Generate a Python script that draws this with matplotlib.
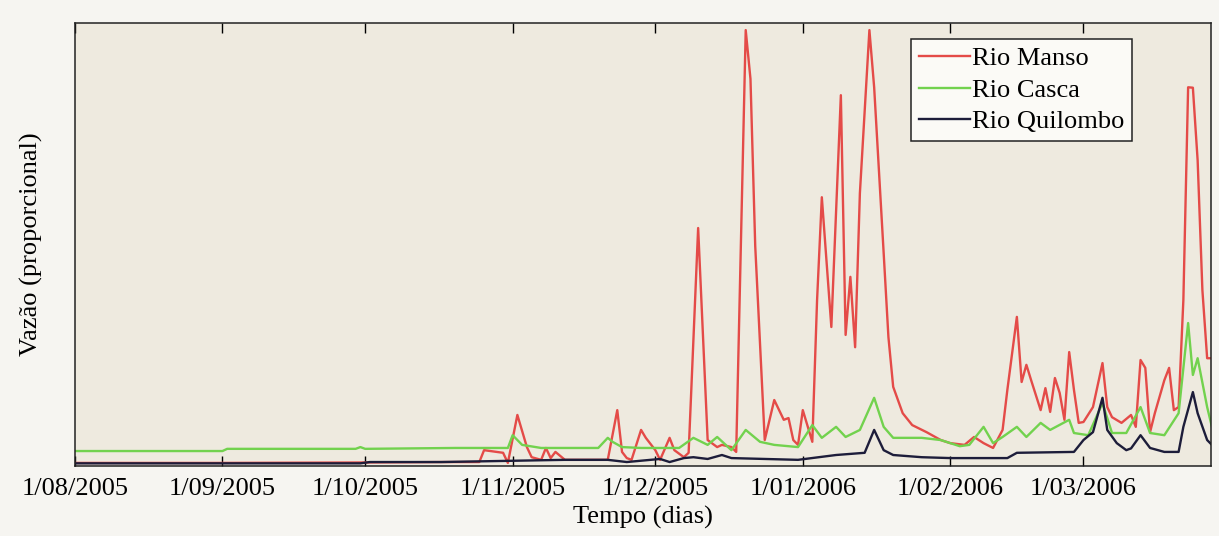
"""Vazão proporcional dos rios Manso, Casca e Quilombo (ago/2005 - mar/2006)."""
import matplotlib
matplotlib.use("Agg")
import matplotlib.pyplot as plt
import matplotlib.dates as mdates
import pandas as pd

START = pd.Timestamp("2005-08-01")
X_END_DAYS = 238.8
Y_TOP = 100.7

# day offset from START -> proportional flow
MANSO_DAY = [0, 30, 60, 77, 85, 86, 90, 91, 93, 95, 96, 98, 99, 100, 101, 103,
             112, 114, 115, 116, 117, 119, 120, 122, 123, 125, 126, 128, 129,
             131, 133, 135, 136, 138, 139, 141, 142, 143, 145, 147, 149, 150,
             151, 152, 153, 155, 156, 157, 159, 161, 162, 163, 164, 165, 167,
             168, 170, 171, 172, 174, 176, 179, 182, 184, 187, 189, 191, 193,
             195, 196, 198, 199, 200, 201, 203, 204, 205, 206, 207, 208, 209,
             210, 211, 212, 214, 216, 217, 218, 220, 222, 223, 224, 225, 226,
             227, 229, 230, 231, 232, 233, 234, 235, 236, 237, 238, 239]
MANSO_VAL = [0.7, 0.7, 0.8, 0.9, 0.9, 3.6, 3.0, 0.7, 11.6, 4.3, 2.0, 1.4, 4.1,
             1.8, 3.2, 1.4, 1.4, 12.7, 3.2, 1.8, 1.4, 8.2, 6.4, 3.6, 1.4, 6.4,
             3.6, 2.0, 3.0, 54.1, 5.9, 4.3, 4.8, 4.3, 3.2, 99.1, 88.0, 50.0,
             5.9, 15.0, 10.5, 10.9, 5.9, 4.8, 12.7, 5.5, 37.7, 61.1, 31.6,
             84.3, 29.8, 43.0, 27.0, 62.0, 99.1, 86.1, 48.4, 29.3, 18.0, 12.0,
             9.3, 7.7, 5.9, 5.2, 4.8, 6.6, 5.2, 4.1, 8.2, 17.3, 33.9, 19.1,
             23.0, 19.5, 12.7, 17.7, 12.3, 20.0, 16.6, 10.5, 25.9, 17.3, 9.8,
             10.0, 13.4, 23.4, 13.4, 11.1, 9.8, 11.6, 8.9, 24.1, 22.3, 7.7,
             12.0, 19.5, 22.3, 12.7, 13.4, 37.7, 86.1, 86.0, 69.5, 40.0, 24.5,
             24.5]

CASCA_DAY = [0, 31, 32, 59, 60, 61, 80, 91, 92, 94, 98, 110, 112, 113, 115,
             119, 127, 130, 133, 135, 138, 141, 144, 147, 152, 155, 157, 160,
             162, 165, 168, 170, 172, 178, 182, 184, 186, 188, 191, 193, 195,
             198, 200, 203, 205, 209, 210, 213, 216, 218, 221, 224, 226, 229,
             232, 234, 235, 236, 238, 239]
CASCA_VAL = [3.4, 3.4, 3.9, 3.9, 4.3, 3.9, 4.1, 4.1, 7.0, 4.8, 4.1, 4.1, 6.4,
             5.5, 4.3, 4.1, 4.1, 6.4, 4.8, 6.6, 3.6, 8.2, 5.5, 4.8, 4.3, 9.3,
             6.4, 8.9, 6.6, 8.2, 15.5, 8.9, 6.4, 6.4, 5.9, 5.2, 4.5, 4.8, 8.9,
             5.2, 6.6, 8.9, 6.6, 9.8, 8.2, 10.5, 7.5, 7.0, 14.3, 7.5, 7.5,
             13.4, 7.5, 7.0, 12.0, 32.5, 20.7, 24.5, 13.4, 8.9]

QUILOMBO_DAY = [0, 60, 62, 77, 103, 112, 116, 123, 125, 128, 130, 133, 136,
                138, 145, 152, 160, 166, 168, 170, 172, 178, 184, 196, 198,
                210, 212, 214, 216, 217, 219, 221, 222, 224, 226, 229, 232,
                233, 235, 236, 238, 239]
QUILOMBO_VAL = [0.6, 0.6, 0.9, 0.9, 1.4, 1.4, 0.9, 1.6, 0.9, 1.8, 2.0, 1.6,
                2.5, 1.8, 1.6, 1.4, 2.5, 3.0, 8.2, 3.6, 2.5, 2.0, 1.8, 1.8,
                3.0, 3.2, 5.9, 7.7, 15.5, 8.2, 5.2, 3.6, 4.0, 7.0, 4.1, 3.2,
                3.2, 8.9, 16.8, 12.0, 5.9, 4.8]

LABELS = ["Rio Manso", "Rio Casca", "Rio Quilombo"]
_COLORS = {"Rio Manso": "#e44b48", "Rio Casca": "#72d24e",
           "Rio Quilombo": "#1d1d3a"}


def _dates(days):
    return START + pd.to_timedelta(days, unit="D")


def main():
    plt.rcParams["font.family"] = ["Liberation Serif", "DejaVu Serif"]
    fs = 19

    fig = plt.figure(figsize=(12.19, 5.36), dpi=100, facecolor="#f6f5f1")
    ax = fig.add_axes([0.0615, 0.1306, 0.9319, 0.8264])
    ax.set_facecolor("#eeeadf")

    series = [(MANSO_DAY, MANSO_VAL), (CASCA_DAY, CASCA_VAL),
              (QUILOMBO_DAY, QUILOMBO_VAL)]
    for lab, (d, v) in zip(LABELS, series):
        ax.plot(_dates(d), v, color=_COLORS[lab], lw=1.7, label=lab)

    ax.set_xlim(START, START + pd.Timedelta(days=X_END_DAYS))
    ax.set_ylim(0, Y_TOP)
    ax.set_yticks([])
    ax.xaxis.set_major_locator(mdates.MonthLocator())
    ax.xaxis.set_major_formatter(plt.FuncFormatter(
        lambda x, pos: (lambda d: f"{d.day}/{d.month:02d}/{d.year}")(mdates.num2date(x))))
    ax.tick_params(axis="x", direction="in", length=7, width=1, top=True,
                   labelsize=fs, pad=9)
    for sp in ax.spines.values():
        sp.set_linewidth(1.1)
        sp.set_color("#222222")

    ax.set_xlabel("Tempo (dias)", fontsize=fs, labelpad=4)
    ax.set_ylabel("Vazão (proporcional)", fontsize=fs, labelpad=23)

    leg = ax.legend(loc="upper right", bbox_to_anchor=(0.9305, 0.964),
                    borderaxespad=0, fontsize=fs, fancybox=False,
                    framealpha=1, facecolor="#fbfaf6", edgecolor="#222222",
                    handlelength=1.95, handletextpad=0.05, borderpad=0.3,
                    labelspacing=0.3)
    leg.get_frame().set_linewidth(1.1)

    fig.savefig("out.png", dpi=100, facecolor=fig.get_facecolor())
    plt.close(fig)


if __name__ == "__main__":
    main()
